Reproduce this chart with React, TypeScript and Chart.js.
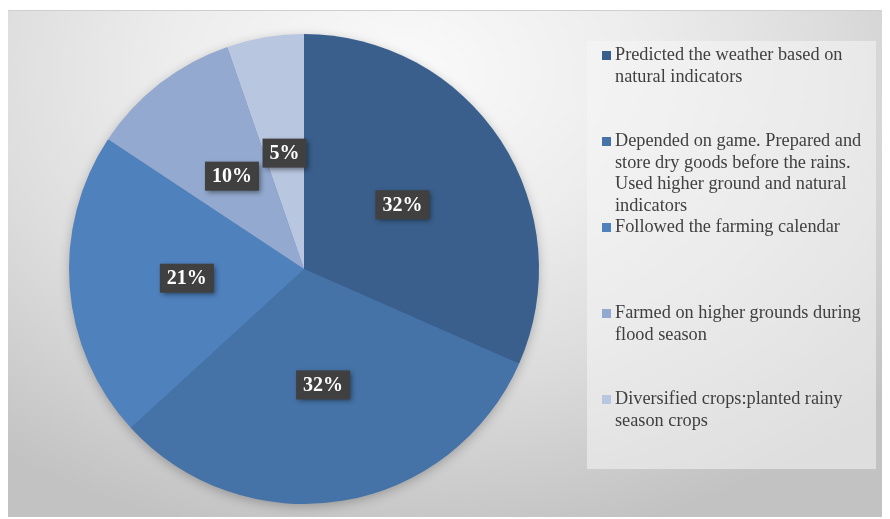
import React, { useEffect, useRef } from "react";
import { Chart, registerables } from "chart.js";

Chart.register(...registerables);

const categories: string[] = [
  "Predicted the weather based on natural indicators",
  "Depended on game. Prepared and store dry goods before the rains. Used higher ground and natural indicators",
  "Followed the farming calendar",
  "Farmed on higher grounds during flood season",
  "Diversified crops:planted rainy season crops",
];
const values: number[] = [31.6, 31.6, 21.1, 10.4, 5.3];
const valueLabels: string[] = ["32%", "32%", "21%", "10%", "5%"];
const colors: string[] = ["#3A5F8C", "#4572A7", "#4F81BD", "#93A9CF", "#B9C6DF"];

const SERIF = "'Liberation Serif', 'Times New Roman', serif";

const shadowPlugin = {
  id: "pieShadow",
  beforeDatasetsDraw(chart: any) {
    const arc = chart.getDatasetMeta(0).data[0];
    if (!arc) return;
    const { x, y, outerRadius } = arc.getProps(["x", "y", "outerRadius"], true);
    const ctx = chart.ctx;
    ctx.save();
    ctx.shadowColor = "rgba(0,0,0,0.28)";
    ctx.shadowBlur = 12;
    ctx.shadowOffsetY = 3;
    ctx.beginPath();
    ctx.arc(x, y, outerRadius - 1, 0, Math.PI * 2);
    ctx.fillStyle = colors[1];
    ctx.fill();
    ctx.restore();
  },
};

const labelPlugin = {
  id: "boxLabels",
  afterDatasetsDraw(chart: any) {
    const ctx = chart.ctx;
    const meta = chart.getDatasetMeta(0);
    ctx.save();
    ctx.font = `bold 20px ${SERIF}`;
    meta.data.forEach((el: any, i: number) => {
      const p = el.getCenterPoint();
      const txt = valueLabels[i];
      const w = ctx.measureText(txt).width + 14;
      const h = 29;
      ctx.save();
      ctx.shadowColor = "rgba(0,0,0,0.45)";
      ctx.shadowBlur = 5;
      ctx.shadowOffsetX = 2;
      ctx.shadowOffsetY = 2;
      ctx.fillStyle = "#404040";
      ctx.fillRect(p.x - w / 2, p.y - h / 2, w, h);
      ctx.restore();
      ctx.fillStyle = "#ffffff";
      ctx.textAlign = "center";
      ctx.textBaseline = "middle";
      ctx.fillText(txt, p.x, p.y + 1);
    });
    ctx.restore();
  },
};

export default function App() {
  const ref = useRef<HTMLCanvasElement | null>(null);
  useEffect(() => {
    if (!ref.current) return;
    const chart = new Chart(ref.current, {
      type: "pie",
      data: {
        labels: categories,
        datasets: [
          {
            data: values,
            backgroundColor: colors,
            borderWidth: 0,
            hoverOffset: 0,
            offset: 0,
          },
        ],
      },
      options: {
        animation: false,
        responsive: false,
        maintainAspectRatio: false,
        events: [],
        layout: { padding: { left: 61, top: 23, right: 351, bottom: 14 } },
        plugins: {
          legend: { display: false },
          tooltip: { enabled: false },
          title: { display: false },
        },
      },
      plugins: [shadowPlugin, labelPlugin],
    });
    return () => chart.destroy();
  }, []);

  return (
    <div
      style={{
        position: "relative",
        width: 882,
        height: 507,
        marginTop: 2,
        boxSizing: "border-box",
        borderTop: "1px solid #cfcfcf",
        background:
          "radial-gradient(ellipse 75% 95% at 45% 12%, #fafafa 0%, #ededed 35%, #dcdcdc 65%, #c2c2c2 100%)",
        overflow: "hidden",
      }}
    >
      <canvas
        ref={ref}
        width={882}
        height={507}
        style={{ position: "absolute", left: 0, top: 0, width: 882, height: 507 }}
      />
      <div
        style={{
          position: "absolute",
          left: 579,
          top: 30,
          width: 289,
          height: 428,
          background: "rgba(245,245,245,0.55)",
        }}
      >
        {categories.map((c, i) => (
          <div
            key={i}
            style={{
              position: "absolute",
              left: 15,
              top: 3 + i * 86,
              width: 272,
              display: "flex",
              alignItems: "flex-start",
              fontFamily: SERIF,
              fontSize: 18.3,
              lineHeight: "21.5px",
              color: "#404040",
            }}
          >
            <span
              style={{
                display: "inline-block",
                width: 9,
                height: 9,
                background: colors[i],
                marginTop: 7,
                marginRight: 4,
                flex: "0 0 auto",
              }}
            />
            <span style={{ width: 257 }}>{c}</span>
          </div>
        ))}
      </div>
    </div>
  );
}
